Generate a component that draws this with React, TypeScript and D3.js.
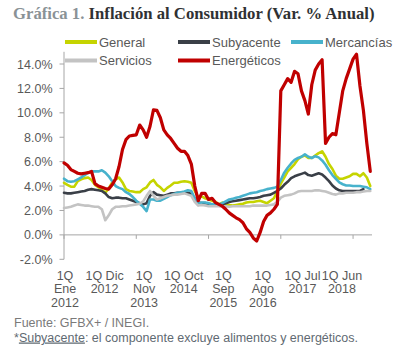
import React from "react";
import * as d3 from "d3";

const W = 401;
const H = 347;

const seriesNames = ["General", "Subyacente", "Mercancías", "Servicios", "Energéticos"];
const seriesColors = ["#c5d400", "#3a3f47", "#47b2cc", "#c3c3c3", "#c00000"];

// monthly readings (index 0 = 1Q Ene 2012)
const general = [
  4.27, 4.1, 3.95, 3.95, 4.4, 4.55, 4.65, 4.7, 4.5, 4.1,
  3.9, 3.7, 3.45, 3.8, 4.3, 4.55, 4.7, 4.3, 3.75, 3.6,
  3.55, 3.5, 3.5, 3.75, 3.9, 4.3, 4.5, 4.1, 3.9, 3.6,
  3.85, 4.05, 4.27, 4.27, 4.35, 4.4, 4.35, 4.27, 3.6, 3.1,
  3.15, 3.0, 2.9, 2.8, 2.7, 2.5, 2.65, 2.5, 2.45, 2.4,
  2.45, 2.5, 2.55, 2.65, 2.7, 2.7, 2.75, 2.8, 2.7, 2.6,
  2.8, 3.0, 3.6, 4.2, 4.7, 5.2, 5.5, 5.8, 6.2, 6.4,
  6.5, 6.3, 6.3, 6.5, 6.7, 6.85, 6.4, 5.8, 5.4, 4.85,
  4.6, 4.6, 4.7, 4.8, 5.0, 5.0, 4.8, 5.05, 4.7, 4.0,
];
const subyacente = [
  3.45, 3.4, 3.4, 3.45, 3.5, 3.55, 3.6, 3.7, 3.75, 3.7,
  3.65, 3.6, 3.4, 3.1, 3.0, 3.05, 3.05, 3.0, 3.0, 2.9,
  2.8, 2.7, 2.6, 2.5, 2.6, 3.2, 3.5, 3.3, 3.25, 3.2,
  3.3, 3.4, 3.4, 3.45, 3.45, 3.45, 3.45, 3.35, 2.95, 2.65,
  2.6, 2.6, 2.55, 2.5, 2.45, 2.45, 2.5, 2.6, 2.7, 2.75,
  2.8, 2.85, 2.9, 2.95, 3.0, 3.0, 3.05, 3.1, 3.2, 3.25,
  3.3, 3.45, 3.6, 3.8, 4.1, 4.35, 4.65, 4.8, 4.9, 5.0,
  5.1, 4.9, 4.85, 4.95, 5.05, 4.95, 4.7, 4.4, 4.05, 3.8,
  3.65, 3.6, 3.6, 3.6, 3.6, 3.6, 3.6, 3.75, null, null,
];
const mercancias = [
  4.6, 4.4, 4.35, 4.4, 4.55, 4.7, 4.9, 5.1, 5.2, 5.2,
  5.2, 5.3, 5.1, 4.8, 4.4, 4.0, 3.85, 3.75, 3.5, 3.35,
  3.1, 2.8, 2.55, 2.3, 1.95, 2.9, 2.9, 2.8, 2.8, 2.95,
  3.1, 3.25, 3.35, 3.45, 3.5, 3.55, 3.65, 3.6, 3.0, 2.55,
  2.65, 2.65, 2.6, 2.5, 2.5, 2.5, 2.6, 2.75, 2.9, 2.95,
  3.05, 3.1, 3.2, 3.3, 3.4, 3.45, 3.5, 3.6, 3.65, 3.75,
  3.8, 3.85, 3.95, 4.5, 5.1, 5.5, 5.85, 6.15, 6.3, 6.4,
  6.6, 6.4, 6.3, 6.45, 6.35, 6.1, 5.75, 5.3, 4.9, 4.6,
  4.3, 4.15, 4.05, 4.05, 4.0, 4.0, 4.0, 3.95, 3.9, 3.75,
];
const servicios = [
  2.2, 2.25, 2.3, 2.4, 2.5, 2.45, 2.4, 2.4, 2.35, 2.3,
  2.3, 2.1, 1.2, 1.6, 2.1, 2.3, 2.3, 2.35, 2.35, 2.4,
  2.45, 2.5, 2.55, 2.75, 3.2, 3.6, 3.2, 2.9, 3.0, 3.1,
  3.2, 3.25, 3.3, 3.3, 3.35, 3.4, 3.3, 3.2, 2.7, 2.4,
  2.45, 2.4, 2.35, 2.35, 2.35, 2.35, 2.3, 2.35, 2.3, 2.35,
  2.35, 2.35, 2.35, 2.35, 2.35, 2.4, 2.4, 2.4, 2.4, 2.4,
  2.45, 2.5, 2.7, 3.05, 3.2, 3.25, 3.3, 3.4, 3.55, 3.6,
  3.6, 3.6, 3.6, 3.65, 3.65, 3.6, 3.55, 3.45, 3.35, 3.3,
  3.4, 3.4, 3.45, 3.45, 3.45, 3.5, 3.5, 3.55, 3.6, 3.6,
];
const energeticos = [
  5.9, 5.7, 5.35, 5.2, 5.05, 5.0, 5.05, 5.1, 5.2, 4.2,
  4.0, 3.9, 3.8, 3.75, 4.1, 4.6, 5.6, 7.0, 7.8, 8.1,
  8.15, 8.2, 9.0, 8.6, 8.0, 8.9, 10.25, 10.2, 9.6, 8.6,
  8.2, 7.9, 7.5, 7.1, 6.85, 6.85, 6.5, 5.8, 4.0, 2.8,
  3.4, 3.4, 2.9, 3.0, 2.65, 2.5, 2.35, 2.1, 1.8, 1.6,
  1.4, 1.25, 1.0, 0.5, 0.2, -0.25, -0.5, 0.2, 1.1, 1.6,
  1.8, 2.1, 2.5, 11.8, 12.3, 12.8, 12.5, 13.4, 13.2, 11.8,
  11.0, 9.9, 12.3, 13.5, 14.0, 14.35, 7.5, 8.0, 8.3, 8.2,
  10.0, 11.8, 12.8, 13.6, 14.4, 14.8, 12.2, 10.2, 7.5, 5.2,
];

const yTicks = [-2, 0, 2, 4, 6, 8, 10, 12, 14];
const xTickMonths = [0, 21, 42, 63, 84];
const xLabelMonths = [0, 11.5, 23, 34.5, 46, 57.5, 69, 80.5];
const xLabels = [
  ["1Q", "Ene", "2012"],
  ["1Q Dic", "2012"],
  ["1Q", "Nov", "2013"],
  ["1Q Oct", "2014"],
  ["1Q", "Sep", "2015"],
  ["1Q", "Ago", "2016"],
  ["1Q Jul", "2017"],
  ["1Q Jun", "2018"],
];

const allSeries = [general, subyacente, mercancias, servicios, energeticos];

export default function App() {
  const x = d3.scaleLinear().domain([0, 89.5]).range([64, 372]);
  const y = d3.scaleLinear().domain([-2, 15]).range([259.3, 51.8]);
  const line = d3
    .line<number | null>()
    .defined((d) => d !== null)
    .x((_, i) => x(i))
    .y((d) => y(d as number));

  const axisColor = "#a6a6a6";
  const textColor = "#595959";
  const font = "'Liberation Sans', Arial, sans-serif";

  const legendItems = [
    { i: 0, lx: 65, ly: 42 },
    { i: 1, lx: 178, ly: 42 },
    { i: 2, lx: 291, ly: 42 },
    { i: 3, lx: 65, ly: 60.5 },
    { i: 4, lx: 178, ly: 60.5 },
  ];

  return (
    <svg
      width={W}
      height={H}
      style={{ position: "absolute", left: 0, top: 0, background: "#fff" }}
    >
      <rect width={W} height={H} fill="#fff" />
      {/* Title */}
      <text
        x={13}
        y={18.5}
        fontFamily="'Liberation Serif', 'Times New Roman', serif"
        fontWeight="bold"
        fontSize={16.7}
        fill="#2f3133"
      >
        <tspan fill="#8a9296">Gráfica 1.</tspan> Inflación al Consumidor (Var. % Anual)
      </text>

      {/* Legend */}
      {legendItems.map(({ i, lx, ly }) => (
        <g key={i}>
          <line
            x1={lx}
            x2={lx + 32}
            y1={ly}
            y2={ly}
            stroke={seriesColors[i]}
            strokeWidth={4}
          />
          <text
            x={lx + 34}
            y={ly + 4.5}
            fontFamily={font}
            fontSize={13}
            fill={textColor}
          >
            {seriesNames[i]}
          </text>
        </g>
      ))}

      {/* Y axis */}
      <line x1={64} x2={64} y1={y(15)} y2={y(-2)} stroke={axisColor} strokeWidth={1} />
      {yTicks.map((t) => (
        <g key={t}>
          <line x1={59.5} x2={64} y1={y(t)} y2={y(t)} stroke={axisColor} strokeWidth={1} />
          <text
            x={52.5}
            y={y(t) + 4.5}
            textAnchor="end"
            fontFamily={font}
            fontSize={12.5}
            fill={textColor}
          >
            {t.toFixed(1) + "%"}
          </text>
        </g>
      ))}

      {/* X axis at zero */}
      <line x1={64} x2={372} y1={y(0)} y2={y(0)} stroke={axisColor} strokeWidth={1} />
      {xTickMonths.map((m) => (
        <line
          key={m}
          x1={x(m)}
          x2={x(m)}
          y1={y(0)}
          y2={y(0) + 4}
          stroke={axisColor}
          strokeWidth={1}
        />
      ))}

      {/* Series */}
      {allSeries.map((s, i) => (
        <path
          key={i}
          d={line(s) || ""}
          fill="none"
          stroke={seriesColors[i]}
          strokeWidth={i === 4 ? 3.2 : 2.6}
          strokeLinejoin="round"
          strokeLinecap="round"
        />
      ))}

      {/* X labels */}
      {xLabels.map((lines, k) => (
        <text
          key={k}
          x={x(xLabelMonths[k]) + 1}
          y={279.5}
          textAnchor="middle"
          fontFamily={font}
          fontSize={12.5}
          fill={textColor}
        >
          {lines.map((ln, j) => (
            <tspan key={j} x={x(xLabelMonths[k]) + 1} dy={j === 0 ? 0 : 13.9}>
              {ln}
            </tspan>
          ))}
        </text>
      ))}

      {/* Footer */}
      <text x={14} y={326.5} fontFamily={font} fontSize={12.5} fill="#7a7a7a">
        Fuente: GFBX+ / INEGI.
      </text>
      <text x={14} y={341.5} fontFamily={font} fontSize={12.5} fill="#5f6a72">
        *<tspan textDecoration="underline" style={{ textDecoration: "underline" }}>Subyacente</tspan>: el componente excluye alimentos y energéticos.
      </text>
    </svg>
  );
}
